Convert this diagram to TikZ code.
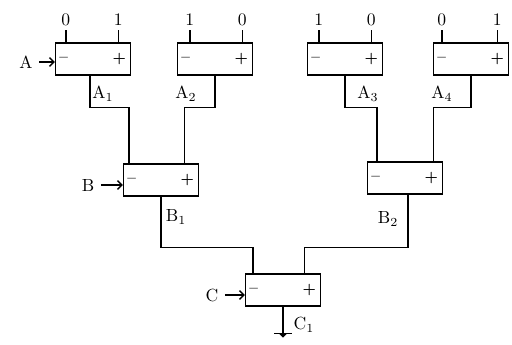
\documentclass[tikz,border=0pt]{standalone}
\usepackage{tikz}
\usetikzlibrary{arrows.meta,positioning,calc}

\tikzset{
  cmpbox/.style={draw, minimum width=15mm, minimum height=6.4mm, inner sep=0pt},
  sign/.style={font=\footnotesize\bfseries, inner sep=0pt},
  sel/.style={-{Straight Barb[length=2.5pt,width=5pt]}},
}

\begin{document}
\begin{tikzpicture}[x=0.2mm, y=-0.2mm, line width=0.8pt]
  \useasboundingbox (0,0) rectangle (512,344);
  % comparator boxes
  \node[cmpbox] (a1) at (93,59) {};
  \node[cmpbox] (a2) at (215,59) {};
  \node[cmpbox] (a3) at (345,59) {};
  \node[cmpbox] (a4) at (471,59) {};
  \node[cmpbox] (b1) at (161,180) {};
  \node[cmpbox] (b2) at (405,178) {};
  \node[cmpbox] (c) at (283,290) {};
  \foreach \n in {a1,a2,a3,a4,b1,b2,c} {
    \node[sign] at ($(\n.west)+(9,0)$) {--};
    \node[sign] at ($(\n.east)+(-12,0)$) {+};
  }
  % inputs of the first row
  \foreach \n/\l/\r/\vl/\vr in {a1/11/13/0/1, a2/13/11/1/0, a3/12/12/1/0, a4/9/12/0/1} {
    \draw ($(\n.north west)+(\l,0)$) -- ++(0,-12) node[above=-1pt] {\vl};
    \draw ($(\n.north east)+(-\r,0)$) -- ++(0,-12) node[above=-1pt] {\vr};
  }
  % select lines
  \node (sa) at (26,62) {A};
  \draw[sel] (sa.east) -- (sa.east -| a1.west);
  \node (sb) at (88,185) {B};
  \draw[sel] (sb.east) -- (sb.east -| b1.west);
  \node (sc) at (212,295) {C};
  \draw[sel] (sc.east) -- (sc.east -| c.west);
  % wires between rows
  \draw ($(a1.south)+(-3,0)$) -- ++(0,32) -| ($(b1.north west)+(6,0)$);
  \draw (a2.south) -- ++(0,32) -| ($(b1.north east)+(-15,0)$);
  \draw (a3.south) -- ++(0,32) -| ($(b2.north west)+(10,0)$);
  \draw (a4.south) -- ++(0,32) -| ($(b2.north east)+(-10,0)$);
  \draw (b1.south) |- ($(c.north west)+(8,-26)$) -- ($(c.north west)+(8,0)$);
  \draw ($(b2.south)+(3,0)$) |- ($(c.north east)+(-17,-26)$) -- ($(c.north east)+(-17,0)$);
  \draw (c.south) -- ++(0,27) coordinate (gnd);
  \draw (gnd) ++(-9,0) -- ++(18,0);
  \fill (gnd) ++(-4,0) -- ++(8,0) -- ++(-4,4) -- cycle;
  % output labels
  \node (la1) at (103,94) {A$_1$};
  \node (la2) at (186,94) {A$_2$};
  \node (la3) at (368,94) {A$_3$};
  \node (la4) at (442,94) {A$_4$};
  \node (lb1) at (176,217) {B$_1$};
  \node (lb2) at (388,219) {B$_2$};
  \node (lc1) at (304,325) {C$_1$};
\end{tikzpicture}
\end{document}
